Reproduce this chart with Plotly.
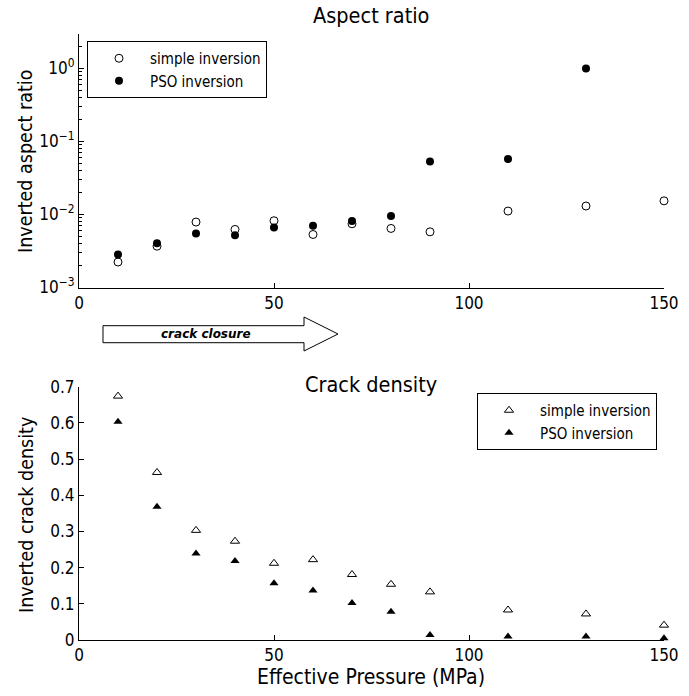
import plotly.graph_objects as go

pressure = [10, 20, 30, 40, 50, 60, 70, 80, 90, 110, 130, 150]
aspect_simple = [0.00223, 0.00367, 0.00785, 0.00622, 0.00818, 0.00531, 0.00744, 0.00642, 0.00577, 0.0111, 0.0130, 0.0153]
pressure_pso = [10, 20, 30, 40, 50, 60, 70, 80, 90, 110, 130]
aspect_pso = [0.00282, 0.00403, 0.00548, 0.0052, 0.00662, 0.00698, 0.0081, 0.0095, 0.053, 0.057, 0.99]
density_simple = [0.674, 0.463, 0.303, 0.273, 0.212, 0.222, 0.181, 0.154, 0.133, 0.083, 0.072, 0.041]
density_pso = [0.603, 0.368, 0.239, 0.218, 0.157, 0.137, 0.102, 0.078, 0.014, 0.010, 0.010, 0.005]
x_ticks = [0, 50, 100, 150]
log_ticks = [0.001, 0.01, 0.1, 1]
log_tick_text = ["10<sup>−3</sup>", "10<sup>−2</sup>", "10<sup>−1</sup>", "10<sup>0</sup>"]
lin_ticks = [0, 0.1, 0.2, 0.3, 0.4, 0.5, 0.6, 0.7]
lin_tick_text = ["0", "0.1", "0.2", "0.3", "0.4", "0.5", "0.6", "0.7"]

W, H = 689, 696

def px(x):
    return x / W

def py(y):
    return 1 - y / H

COND = "DejaVu Sans Condensed, DejaVu Sans"
TICKF = dict(family=COND, size=17, color="black")
TITF = dict(family=COND, size=21.5, color="black")
YLABF = dict(family=COND, size=19.5, color="black")
XLABF = dict(family=COND, size=21, color="black")
LEGF = dict(family=COND, size=15, color="black")

fig = go.Figure()
fig.add_trace(go.Scatter(x=pressure, y=aspect_simple, mode="markers", name="simple inversion",
                         marker=dict(symbol="circle-open", size=8, color="black", line=dict(width=1, color="black")),
                         xaxis="x", yaxis="y", legend="legend", cliponaxis=False))
fig.add_trace(go.Scatter(x=pressure_pso, y=aspect_pso, mode="markers", name="PSO inversion",
                         marker=dict(symbol="circle", size=8, color="black"),
                         xaxis="x", yaxis="y", legend="legend", cliponaxis=False))
fig.add_trace(go.Scatter(x=pressure, y=density_simple, mode="markers", name="simple inversion",
                         marker=dict(symbol="triangle-up-open", size=8, color="black", line=dict(width=1, color="black")),
                         xaxis="x2", yaxis="y2", legend="legend2", cliponaxis=False))
fig.add_trace(go.Scatter(x=pressure, y=density_pso, mode="markers", name="PSO inversion",
                         marker=dict(symbol="triangle-up", size=8, color="black"),
                         xaxis="x2", yaxis="y2", legend="legend2", cliponaxis=False))

xdom = [px(79), px(664)]
top_dom = [py(287.5), py(34)]
bot_dom = [py(640), py(386.7)]

axis_common = dict(showline=True, linecolor="black", linewidth=1, showgrid=False, zeroline=False,
                   ticks="inside", ticklen=5, tickcolor="black", tickfont=TICKF, mirror=False,
                   automargin=False)
minor_log = [k * 10 ** e for e in range(-3, 1) for k in range(2, 10)]

fig.update_layout(
    width=W, height=H, margin=dict(l=0, r=0, t=0, b=0, autoexpand=False),
    paper_bgcolor="white", plot_bgcolor="white",
    xaxis=dict(domain=xdom, range=[0, 150], tickvals=x_ticks, anchor="y", **axis_common),
    yaxis=dict(domain=top_dom, type="log", range=[-3, 0.466], tickvals=log_ticks, ticktext=log_tick_text,
               anchor="x", minor=dict(ticks="inside", ticklen=3, tickcolor="black", tickvals=minor_log), **axis_common),
    xaxis2=dict(domain=xdom, range=[0, 150], tickvals=x_ticks, anchor="y2", **axis_common),
    yaxis2=dict(domain=bot_dom, range=[0, 0.7], tickvals=lin_ticks, ticktext=lin_tick_text, anchor="x2", **axis_common),
    legend=dict(x=px(87), y=py(41), xanchor="left", yanchor="top", bordercolor="black", borderwidth=1,
                bgcolor="white", font=LEGF, itemwidth=52, tracegroupgap=0),
    legend2=dict(x=px(477), y=py(393), xanchor="left", yanchor="top", bordercolor="black", borderwidth=1,
                 bgcolor="white", font=LEGF, itemwidth=52, tracegroupgap=0),
    showlegend=True,
)

cx = (xdom[0] + xdom[1]) / 2
fig.add_annotation(text="Aspect ratio", x=cx, y=py(16), xref="paper", yref="paper",
                   showarrow=False, font=TITF, xanchor="center", yanchor="middle")
fig.add_annotation(text="Crack density", x=cx, y=py(384), xref="paper", yref="paper",
                   showarrow=False, font=TITF, xanchor="center", yanchor="middle")
fig.add_annotation(text="Inverted aspect ratio", x=px(26), y=py(162), xref="paper", yref="paper",
                   showarrow=False, font=YLABF, textangle=-90, xanchor="center", yanchor="middle")
fig.add_annotation(text="Inverted crack density", x=px(26), y=py(515), xref="paper", yref="paper",
                   showarrow=False, font=YLABF, textangle=-90, xanchor="center", yanchor="middle")
fig.add_annotation(text="Effective Pressure (MPa)", x=cx, y=py(677), xref="paper", yref="paper",
                   showarrow=False, font=XLABF, xanchor="center", yanchor="middle")

# crack-closure arrow (outline in window pixels converted to paper coords)
pts = [(103, 325.7), (304, 325.7), (304, 317), (338, 334), (304, 351), (304, 342.7), (103, 342.7)]
path = "M " + " L ".join(f"{px(x):.5f},{py(y):.5f}" for x, y in pts) + " Z"
fig.add_shape(type="path", path=path, xref="paper", yref="paper",
              line=dict(color="black", width=1), fillcolor="white")
fig.add_annotation(text="<b><i>crack closure</i></b>", x=px(206), y=py(334), xref="paper", yref="paper",
                   showarrow=False, font=dict(family="DejaVu Sans", size=12, color="black"),
                   xanchor="center", yanchor="middle")

fig.write_html("out.html", config={"displayModeBar": False},
               post_script="document.body.style.margin='0';")
